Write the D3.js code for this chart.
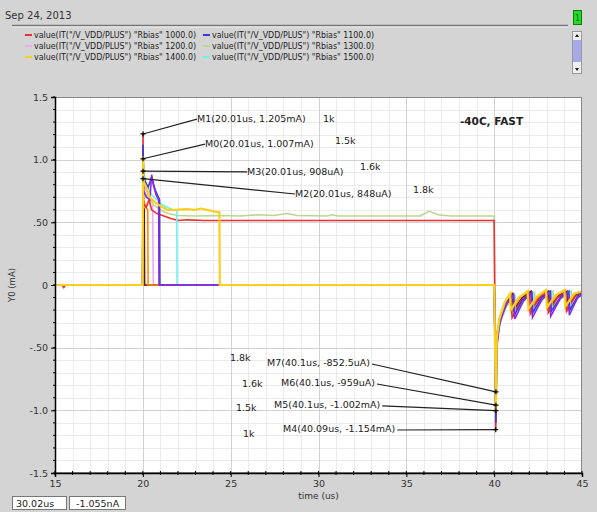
<!DOCTYPE html>
<html>
<head>
<meta charset="utf-8">
<script src="https://d3js.org/d3.v7.min.js"></script>
<style>
body { margin:0; background:#d4d4d4; }
svg { display:block; font-family:"DejaVu Sans", sans-serif; }
</style>
</head>
<body>
<svg id="chart" width="597" height="512"></svg>
<script>
// values (time in us, current in mA)
var seriesNames = ["1000.0","1100.0","1200.0","1300.0","1400.0","1500.0","1600.0","1700.0","1800.0"];
var seriesColors = ["#f03030","#3a3ad8","#f0a8f0","#b8d890","#f8d020","#70f0f0","#8a2be2","#ff8c00","#5a1800"];

var before1000 = [[15,0],[15.4,0],[15.5,-0.02],[15.6,0],[19.99,0],[20.01,1.205],[20.03,0.65],[20.2,0.62],[20.35,0.68],[20.5,0.6],[20.8,0.57],[21.2,0.55],[21.6,0.53],[22.0,0.515],[22.5,0.52],[23.5,0.515],[29,0.515],[35,0.515],[40.0,0.515],[40.09,-1.154]];
var before1100 = [[15,0],[19.99,0],[20.01,1.12],[20.05,0.85],[20.3,0.78],[20.5,0.86],[20.7,0.76],[20.95,0.68],[20.97,0],[40,0],[40.1,-1.1]];
var before1200 = [[15,0],[19.99,0],[20.01,1.06],[20.05,0.8],[20.3,0.72],[20.55,0.66],[20.6,0],[40,0],[40.1,-1.05]];
var before1300 = [[15,0],[19.99,0],[20.01,0.95],[20.05,0.75],[20.3,0.7],[20.6,0.64],[21,0.6],[21.4,0.57],[22,0.555],[23,0.55],[24.5,0.555],[25.5,0.55],[26.5,0.56],[27.5,0.555],[28.2,0.57],[28.8,0.555],[30.5,0.55],[30.8,0.56],[31.1,0.55],[35.8,0.55],[36.3,0.59],[36.8,0.56],[37.5,0.55],[40.0,0.55],[40.1,-1.03]];
var before1400 = [[15,0],[19.99,0],[20.01,1.03],[20.05,0.82],[20.2,0.78],[20.4,0.7],[20.7,0.66],[21.0,0.63],[21.4,0.6],[21.8,0.6],[22.5,0.605],[23.0,0.6],[23.3,0.61],[23.8,0.595],[24.1,0.585],[24.36,0.58],[24.38,0],[40,0],[40.1,-1.01]];
var before1500 = [[15,0],[19.99,0],[20.01,1.007],[20.05,0.9],[20.2,0.8],[20.5,0.72],[20.8,0.68],[21.1,0.64],[21.4,0.62],[21.7,0.6],[21.93,0.6],[21.95,0],[40,0],[40.1,-1.002]];
var before1600 = [[15,0],[19.99,0],[20.01,0.908],[20.05,0.75],[20.2,0.7],[20.4,0.68],[20.5,0.88],[20.6,0.8],[20.75,0.72],[20.9,0.68],[20.92,0],[40,0],[40.1,-0.959]];
var before1700 = [[15,0],[19.99,0],[20.01,0.87],[20.05,0.68],[20.15,0.62],[20.28,0.6],[20.3,0],[40,0],[40.1,-0.9]];
var before1800 = [[15,0],[19.99,0],[20.01,0.848],[20.04,0.62],[20.08,0.6],[20.1,0],[40,0],[40.1,-0.8525]];

var after1000 = [[40.15,-0.5],[40.3,-0.32],[40.6,-0.18],[40.95,-0.1],[41.02,-0.26],[41.5,-0.13],[42.0,-0.07],[42.06,-0.23],[42.5,-0.11],[43.0,-0.06],[43.08,-0.22],[43.6,-0.1],[44.05,-0.06],[44.12,-0.21],[44.6,-0.09],[45,-0.06]];
var after1100 = [[40.15,-0.45],[40.35,-0.28],[40.7,-0.15],[41.1,-0.08],[41.15,-0.24],[41.6,-0.12],[42.15,-0.06],[42.2,-0.22],[42.7,-0.1],[43.2,-0.05],[43.25,-0.21],[43.8,-0.09],[44.25,-0.05],[44.3,-0.2],[44.8,-0.08],[45,-0.07]];
var after1200 = [[40.15,-0.48],[40.3,-0.3],[40.65,-0.16],[41.0,-0.09],[41.07,-0.25],[41.55,-0.12],[42.05,-0.07],[42.12,-0.22],[42.6,-0.1],[43.1,-0.06],[43.15,-0.21],[43.7,-0.09],[44.15,-0.06],[44.2,-0.2],[44.7,-0.08],[45,-0.07]];
var after1300 = [[40.15,-0.46],[40.35,-0.3],[40.7,-0.17],[41.2,-0.09],[41.25,-0.22],[41.8,-0.11],[42.3,-0.06],[42.35,-0.2],[42.9,-0.09],[43.35,-0.05],[43.4,-0.19],[43.95,-0.08],[44.4,-0.05],[44.45,-0.18],[44.9,-0.08],[45,-0.08]];
var after1400 = [[40.15,-0.42],[40.3,-0.27],[40.6,-0.14],[40.9,-0.07],[40.95,-0.2],[41.4,-0.1],[41.9,-0.05],[41.95,-0.19],[42.45,-0.09],[42.95,-0.04],[43.0,-0.18],[43.5,-0.08],[44.0,-0.04],[44.05,-0.17],[44.55,-0.07],[45,-0.05]];
var after1500 = [[40.15,-0.44],[40.35,-0.28],[40.7,-0.15],[41.15,-0.08],[41.2,-0.23],[41.7,-0.11],[42.2,-0.06],[42.25,-0.21],[42.8,-0.1],[43.25,-0.05],[43.3,-0.2],[43.85,-0.09],[44.3,-0.05],[44.35,-0.19],[44.85,-0.08],[45,-0.07]];
var after1600 = [[40.15,-0.43],[40.35,-0.27],[40.75,-0.14],[41.1,-0.08],[41.18,-0.27],[41.65,-0.13],[42.1,-0.07],[42.18,-0.26],[42.7,-0.12],[43.15,-0.06],[43.22,-0.25],[43.75,-0.11],[44.2,-0.06],[44.28,-0.24],[44.75,-0.1],[45,-0.08]];
var after1700 = [[40.15,-0.4],[40.3,-0.26],[40.6,-0.14],[40.95,-0.07],[41.0,-0.21],[41.45,-0.1],[41.95,-0.05],[42.0,-0.2],[42.5,-0.09],[43.0,-0.05],[43.05,-0.19],[43.55,-0.08],[44.05,-0.04],[44.1,-0.18],[44.6,-0.07],[45,-0.05]];
var after1800 = [[40.15,-0.4],[40.35,-0.25],[40.7,-0.13],[41.05,-0.07],[41.1,-0.2],[41.6,-0.1],[42.1,-0.05],[42.15,-0.19],[42.65,-0.09],[43.1,-0.05],[43.15,-0.18],[43.7,-0.08],[44.15,-0.05],[44.2,-0.17],[44.7,-0.07],[45,-0.06]];

var xTicks = [15,20,25,30,35,40,45];
var yTicks = [-1.5,-1.0,-0.5,0,0.5,1.0,1.5];
var yTickLabels = ["-1.5","-1.0","-.50","0",".50","1.0","1.5"];

// markers: position and where the label sits (also in data units)
var markers = [
  {name:"M1", t:20.01, v:1.205, text:"M1(20.01us, 1.205mA)", lt:23.08, lv:1.30, r:"1k", rt:30.26, rv:1.30, side:"top"},
  {name:"M0", t:20.01, v:1.007, text:"M0(20.01us, 1.007mA)", lt:23.54, lv:1.10, r:"1.5k", rt:30.94, rv:1.125, side:"top"},
  {name:"M3", t:20.01, v:0.908, text:"M3(20.01us, 908uA)", lt:25.93, lv:0.878, r:"1.6k", rt:32.36, rv:0.918, side:"top"},
  {name:"M2", t:20.01, v:0.848, text:"M2(20.01us, 848uA)", lt:28.66, lv:0.702, r:"1.8k", rt:35.38, rv:0.734, side:"top"},
  {name:"M7", t:40.1, v:-0.8525, text:"M7(40.1us, -852.5uA)", lt:27.07, lv:-0.646, r:"1.8k", rt:24.96, rv:-0.606, side:"bottom"},
  {name:"M6", t:40.1, v:-0.959, text:"M6(40.1us, -959uA)", lt:27.87, lv:-0.806, r:"1.6k", rt:25.64, rv:-0.814, side:"bottom"},
  {name:"M5", t:40.1, v:-1.002, text:"M5(40.1us, -1.002mA)", lt:27.47, lv:-0.981, r:"1.5k", rt:25.30, rv:-1.005, side:"bottom"},
  {name:"M4", t:40.09, v:-1.154, text:"M4(40.09us, -1.154mA)", lt:27.98, lv:-1.173, r:"1k", rt:25.70, rv:-1.213, side:"bottom"}
];

var series = [
  before1000.concat(after1000), before1100.concat(after1100), before1200.concat(after1200),
  before1300.concat(after1300), before1400.concat(after1400), before1500.concat(after1500),
  before1600.concat(after1600), before1700.concat(after1700), before1800.concat(after1800)
];

var svg = d3.select("#chart");
var W = 597, H = 512;
var plotLeft = 55, plotRight = 582, plotTop = 97, plotBottom = 473;

svg.append("rect").attr("width", W).attr("height", H).attr("fill", "#d4d4d4");

// header
svg.append("text").attr("x", 5).attr("y", 19).attr("font-size", 10).attr("fill", "#333").text("Sep 24, 2013");
svg.append("line").attr("x1", 12).attr("x2", 568).attr("y1", 25.5).attr("y2", 25.5).attr("stroke", "#777").attr("stroke-width", 1.5);
svg.append("line").attr("x1", 12).attr("x2", 568).attr("y1", 27).attr("y2", 27).attr("stroke", "#eee").attr("stroke-width", 1);
svg.append("rect").attr("x", 573.5).attr("y", 10.5).attr("width", 8).attr("height", 14).attr("fill", "#22dd22").attr("stroke", "#117711");
svg.append("text").attr("x", 577.5).attr("y", 21).attr("font-size", 8).attr("text-anchor", "middle").attr("fill", "#063").text("1");

// scroll bar
svg.append("rect").attr("x", 572.5).attr("y", 31.5).attr("width", 9).attr("height", 42).attr("fill", "#f0f0f0").attr("stroke", "#999");
svg.append("rect").attr("x", 573).attr("y", 40).attr("width", 8).attr("height", 22).attr("fill", "#a8a8e8");
svg.append("path").attr("d", "M575,37 L577,34 L579,37 Z").attr("fill", "#222");
svg.append("path").attr("d", "M575,68 L577,71 L579,68 Z").attr("fill", "#222");

// legend, only the first six fit in the window
var legendRows = [35, 46, 57];
var legend = svg.append("g").attr("font-size", 8).attr("fill", "#222");
seriesNames.slice(0, 6).forEach(function(n, i) {
  var col = i % 2, row = Math.floor(i / 2);
  var lx = col === 0 ? 25 : 203, ly = legendRows[row];
  legend.append("line").attr("x1", lx).attr("x2", lx + 7).attr("y1", ly).attr("y2", ly)
    .attr("stroke", seriesColors[i]).attr("stroke-width", 2);
  legend.append("text").attr("x", lx + 9).attr("y", ly + 3)
    .attr("textLength", 162).attr("lengthAdjust", "spacingAndGlyphs")
    .text('value(IT("/V_VDD/PLUS") "Rbias" ' + n + ')');
});

var x = d3.scaleLinear().domain([15, 45]).range([plotLeft, plotRight]);
var y = d3.scaleLinear().domain([-1.5, 1.5]).range([plotBottom, plotTop]);

// plot area
svg.append("rect").attr("x", plotLeft).attr("y", plotTop).attr("width", plotRight - plotLeft)
  .attr("height", plotBottom - plotTop).attr("fill", "#fff");

var grid = svg.append("g");
grid.selectAll(".vmin").data(d3.range(15, 46, 1)).join("line")
  .attr("x1", function(d) { return Math.round(x(d)) + 0.5; }).attr("x2", function(d) { return Math.round(x(d)) + 0.5; })
  .attr("y1", plotTop).attr("y2", plotBottom).attr("stroke", "#ebebeb");
grid.selectAll(".hmin").data(d3.range(-15, 16, 1)).join("line")
  .attr("y1", function(d) { return Math.round(y(d / 10)) + 0.5; }).attr("y2", function(d) { return Math.round(y(d / 10)) + 0.5; })
  .attr("x1", plotLeft).attr("x2", plotRight).attr("stroke", "#ebebeb");
grid.selectAll(".vmaj").data(xTicks).join("line")
  .attr("x1", function(d) { return Math.round(x(d)) + 0.5; }).attr("x2", function(d) { return Math.round(x(d)) + 0.5; })
  .attr("y1", plotTop).attr("y2", plotBottom).attr("stroke", "#d2d2d2");
grid.selectAll(".hmaj").data(yTicks).join("line")
  .attr("y1", function(d) { return Math.round(y(d)) + 0.5; }).attr("y2", function(d) { return Math.round(y(d)) + 0.5; })
  .attr("x1", plotLeft).attr("x2", plotRight).attr("stroke", "#d2d2d2");

// traces, yellow drawn last as in the screenshot
var line = d3.line().x(function(d) { return x(d[0]); }).y(function(d) { return y(d[1]); });
var order = [2, 3, 8, 7, 0, 5, 1, 6, 4];
svg.append("g").attr("fill", "none").selectAll("path").data(order).join("path")
  .attr("d", function(i) { return line(series[i]); })
  .attr("stroke", function(i) { return seriesColors[i]; })
  .attr("stroke-width", function(i) { return i === 4 ? 2.2 : 1.6; });

// frame
svg.append("rect").attr("x", plotLeft + 0.5).attr("y", plotTop + 0.5).attr("width", plotRight - plotLeft - 1)
  .attr("height", plotBottom - plotTop - 1).attr("fill", "none").attr("stroke", "#888");

// axes
var yAxis = svg.append("g").attr("transform", "translate(" + plotLeft + ",0)")
  .call(d3.axisLeft(y).tickValues(yTicks).tickSize(4).tickFormat(function(d, i) { return yTickLabels[i]; }));
yAxis.append("g").selectAll("line").data(d3.range(-15, 16, 1)).join("line")
  .attr("x1", -2).attr("x2", 0).attr("y1", function(d) { return y(d / 10); }).attr("y2", function(d) { return y(d / 10); })
  .attr("stroke", "#000");
var xAxis = svg.append("g").attr("transform", "translate(0," + plotBottom + ")")
  .call(d3.axisBottom(x).tickValues(xTicks).tickSize(4).tickFormat(d3.format("d")));
xAxis.append("g").selectAll("line").data(d3.range(15, 46, 1)).join("line")
  .attr("x1", function(d) { return x(d); }).attr("x2", function(d) { return x(d); }).attr("y1", -2).attr("y2", 2)
  .attr("stroke", "#000");
[yAxis, xAxis].forEach(function(a) {
  a.select(".domain").attr("stroke", "#000").attr("stroke-width", 1.5);
  a.selectAll("text").attr("font-family", "DejaVu Sans").attr("font-size", 9.5).attr("fill", "#333");
});

svg.append("text").attr("transform", "translate(15," + y(0) + ") rotate(-90)").attr("text-anchor", "middle")
  .attr("font-size", 8.5).attr("fill", "#333").text("Y0 (mA)");
svg.append("text").attr("x", x(30)).attr("y", 499).attr("text-anchor", "middle")
  .attr("font-size", 9).attr("fill", "#333").text("time (us)");
svg.append("text").attr("x", x(38.05)).attr("y", 125).attr("font-size", 10.5).attr("font-weight", "bold")
  .attr("fill", "#222").text("-40C, FAST");

// markers and their labels
var ann = svg.append("g").attr("font-size", 9.5).attr("fill", "#222");
markers.forEach(function(m) {
  var mx = x(m.t), my = y(m.v);
  var tx = ann.append("text").attr("x", x(m.lt)).attr("y", y(m.lv)).text(m.text);
  ann.append("text").attr("x", x(m.rt)).attr("y", y(m.rv)).text(m.r);
  if (m.side === "top") {
    ann.append("line").attr("x1", mx).attr("y1", my).attr("x2", x(m.lt)).attr("y2", y(m.lv) - 3)
      .attr("stroke", "#222").attr("stroke-width", 1.2);
  } else {
    var ex = x(m.lt) + tx.node().getComputedTextLength() + 2;
    ann.append("line").attr("x1", ex).attr("y1", y(m.lv) - 2).attr("x2", mx).attr("y2", my)
      .attr("stroke", "#222").attr("stroke-width", 1.2);
  }
  ann.append("path").attr("d", "M" + (mx - 2.5) + "," + my + "h5M" + mx + "," + (my - 2.5) + "v5")
    .attr("stroke", "#000").attr("stroke-width", 1.2);
});

// status boxes
svg.append("rect").attr("x", 12.5).attr("y", 496.5).attr("width", 54).attr("height", 13).attr("fill", "#fff").attr("stroke", "#777");
svg.append("rect").attr("x", 69.5).attr("y", 496.5).attr("width", 56).attr("height", 13).attr("fill", "#fff").attr("stroke", "#777");
svg.append("text").attr("x", 16).attr("y", 507).attr("font-size", 9.5).attr("fill", "#222").text("30.02us");
svg.append("text").attr("x", 76).attr("y", 507).attr("font-size", 9.5).attr("fill", "#222").text("-1.055nA");
</script>
</body>
</html>
